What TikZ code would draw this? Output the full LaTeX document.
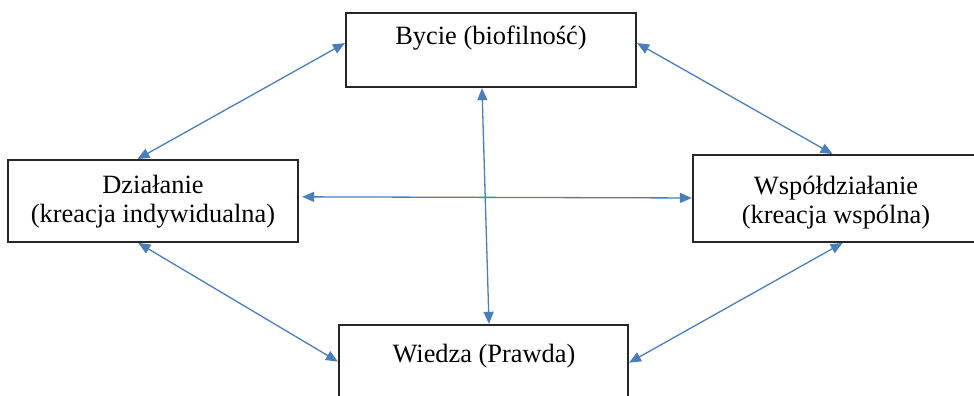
\documentclass[tikz,border=0pt]{standalone}
\usepackage{fontspec}
\setmainfont{Liberation Serif}
\usetikzlibrary{arrows.meta,calc}
\definecolor{arrowblue}{RGB}{74,126,187}
\begin{document}
\begin{tikzpicture}[x=1pt,y=-1pt,
  box/.style={draw=black!85, line width=1.3pt, inner sep=0pt, fill=none},
  lbl/.style={inner sep=0pt, align=center, font=\fontsize{26.4}{28.5}\selectfont},
  link/.style={draw=arrowblue, line width=1.3pt, {Triangle[length=12pt,width=10pt]}-{Triangle[length=12pt,width=10pt]}, shorten <=0.5pt, shorten >=0.5pt}]
\useasboundingbox (0,0) rectangle (974,396);
\clip (0,0) rectangle (974,396);
\fill[white] (0,0) rectangle (974,396);
% boxes
\node[box, minimum width=290pt, minimum height=74pt] (B) at (491,50) {};
\node[box, minimum width=290pt, minimum height=82pt] (D) at (153,201) {};
\node[box, minimum width=287pt, minimum height=87pt] (W) at (836.5,198.5) {};
\node[box, minimum width=289pt, minimum height=85pt] (P) at (483.5,367.5) {};
% labels
\node[lbl, anchor=base] (Bt) at (491,45) {Bycie (biofilność)};
\node[lbl, anchor=north] (Dt) at (153,175) {Działanie\\(kreacja indywidualna)};
\node[lbl, anchor=north] (Wt) at (836,176) {Współdziałanie\\(kreacja wspólna)};
\node[lbl, anchor=base] (Pt) at (484,362) {Wiedza (Prawda)};
% connectors
\draw[link] ($(B.north west)!0.405!(B.south west)$) -- ($(D.north west)!0.445!(D.north east)$);
\draw[link] ($(B.north east)!0.405!(B.south east)$) -- ($(W.north west)!0.488!(W.north east)$);
\draw[link] ($(B.south west)!0.469!(B.south east)$) -- ($(P.north west)!0.519!(P.north east)$);
\draw[link] ($(D.north east)!0.45!(D.south east)+(3,0)$) -- ($(W.north west)!0.494!(W.south west)$);
\draw[link] ($(D.south west)!0.448!(D.south east)$) -- ($(P.north west)!0.435!(P.south west)$);
\draw[link] ($(W.south west)!0.523!(W.south east)$) -- ($(P.north east)!0.447!(P.south east)$);
\end{tikzpicture}
\end{document}
